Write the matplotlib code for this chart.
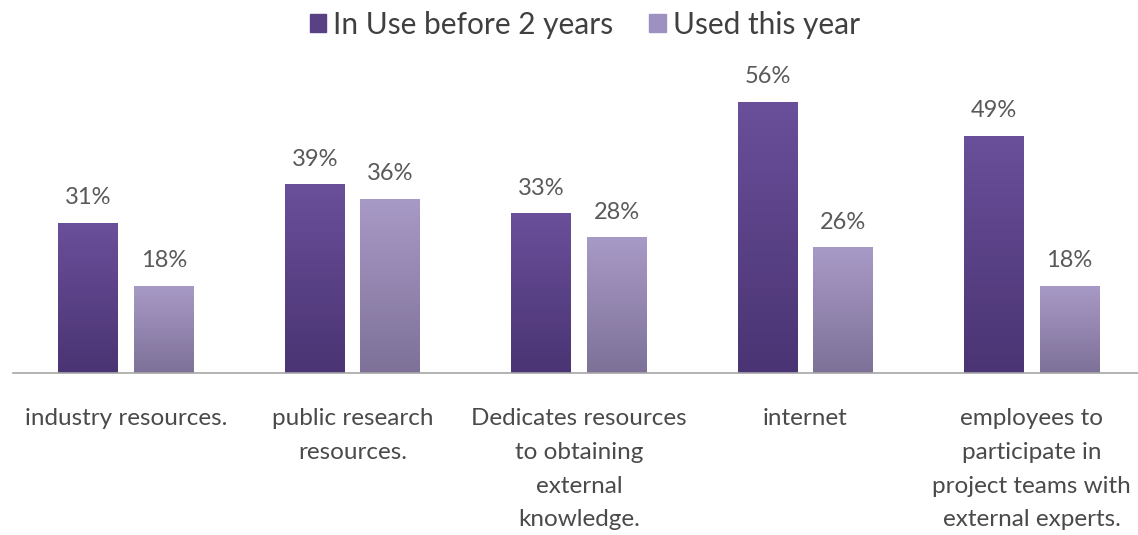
import numpy as np
import matplotlib.pyplot as plt
from matplotlib.colors import LinearSegmentedColormap
from matplotlib.patches import Patch

categories = ["industry resources.",
              "public research\nresources.",
              "Dedicates resources\nto obtaining\nexternal\nknowledge.",
              "internet",
              "employees to\nparticipate in\nproject teams with\nexternal experts."]
before_2_years = [31, 39, 33, 56, 49]
this_year = [18, 36, 28, 26, 18]
series_names = ["In Use before 2 years", "Used this year"]

plt.rcParams['font.family'] = ['Lato', 'DejaVu Sans']

W, H = 1138, 535
fig = plt.figure(figsize=(W / 100, H / 100), dpi=100)

# axes placed in pixel terms: baseline at y=373, group pitch ~226 px
base_y = 373
ymax = 60
px_per_unit = 4.84
top_y = base_y - ymax * px_per_unit
ax = fig.add_axes([13 / W, (H - base_y) / H, 1132 / W, (base_y - top_y) / H])

x = np.arange(len(categories))
width = 0.265
offset = 0.167

dark = LinearSegmentedColormap.from_list("dark", ["#4a3473", "#6a4f9a"])
light = LinearSegmentedColormap.from_list("light", ["#7e7198", "#a89ac6"])
grad = np.linspace(0, 1, 256).reshape(-1, 1)

def gradient_bars(xpos, vals, cmap):
    bars = ax.bar(xpos, vals, width, color="none", edgecolor="none")
    for b in bars:
        x0, w, h = b.get_x(), b.get_width(), b.get_height()
        im = ax.imshow(grad, cmap=cmap, aspect="auto", origin="lower",
                       extent=[x0, x0 + w, 0, h], zorder=2)
        im.set_clip_path(b)
    return bars

gradient_bars(x - offset, before_2_years, dark)
gradient_bars(x + offset, this_year, light)
ax.set_xlim(-0.5, len(categories) - 0.5)
ax.set_ylim(0, ymax)

# value labels
for xi, v in zip(x - offset, before_2_years):
    ax.text(xi, v + 3.0, f"{v}%", ha="center", va="bottom", fontsize=17, color="#595959")
for xi, v in zip(x + offset, this_year):
    ax.text(xi, v + 3.0, f"{v}%", ha="center", va="bottom", fontsize=17, color="#595959")

for s in ["top", "right", "left"]:
    ax.spines[s].set_visible(False)
ax.spines["bottom"].set_color("#a6a6a6")
ax.spines["bottom"].set_linewidth(1.2)
ax.set_yticks([])
ax.set_xticks(x)
ax.set_xticklabels(categories, fontsize=17.5, color="#4a4a4a", linespacing=1.76)
ax.tick_params(axis="x", length=0, pad=25)

# legend
handles = [Patch(color="#5a4184"), Patch(color="#9e90c1")]
fig.legend(handles, series_names, loc="upper center", bbox_to_anchor=(0.514, 1.03),
           ncol=2, frameon=False, fontsize=21.5, handlelength=0.55, handleheight=0.55,
           handletextpad=0.25, columnspacing=1.2, labelcolor="#404040")

fig.savefig("out.png", dpi=100)
